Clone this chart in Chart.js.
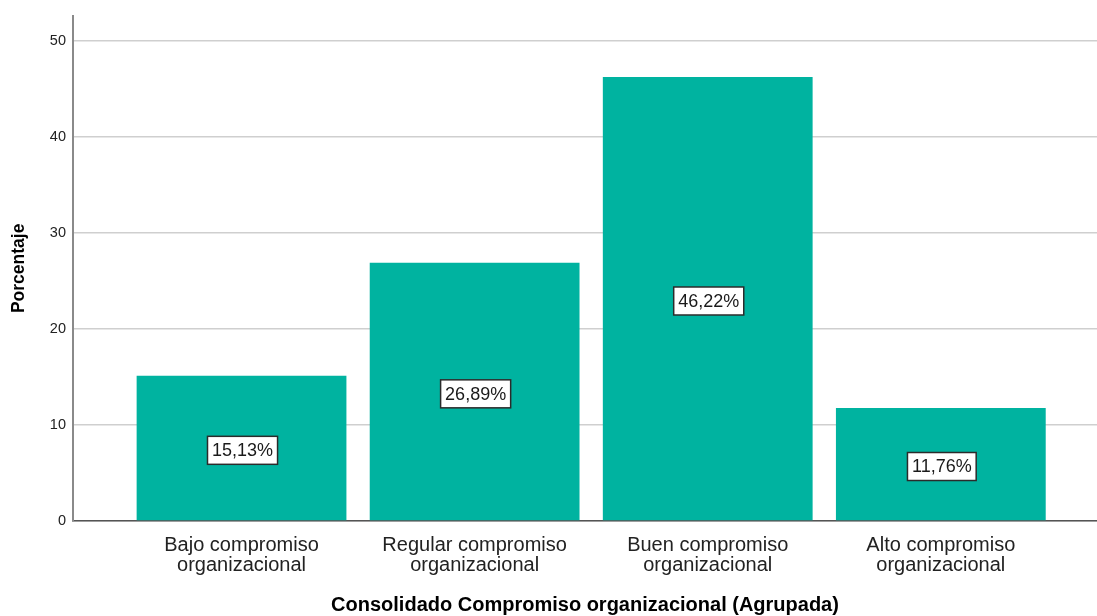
<!DOCTYPE html>
<html>
<head>
<meta charset="utf-8">
<script src="https://cdn.jsdelivr.net/npm/chart.js@4.4.0/dist/chart.umd.min.js"></script>
<style>
  html, body { margin: 0; padding: 0; background: #ffffff; }
  #wrap { width: 1097px; height: 616px; position: relative; }
</style>
</head>
<body>
<div id="wrap"><canvas id="c" width="1097" height="616"></canvas></div>
<script>
const categories = [
  ["Bajo compromiso", "organizacional"],
  ["Regular compromiso", "organizacional"],
  ["Buen compromiso", "organizacional"],
  ["Alto compromiso", "organizacional"]
];
const percentages = [15.13, 26.89, 46.22, 11.76];
const valueLabels = ["15,13%", "26,89%", "46,22%", "11,76%"];
const yTicks = [0, 10, 20, 30, 40, 50];
const xTitle = "Consolidado Compromiso organizacional (Agrupada)";
const yTitle = "Porcentaje";

const FONT = "'Liberation Sans', Arial, sans-serif";

const boxLabels = {
  id: 'boxLabels',
  afterDatasetsDraw(chart) {
    const ctx = chart.ctx;
    const meta = chart.getDatasetMeta(0);
    const ys = chart.scales.y;
    ctx.save();
    ctx.font = "18px " + FONT;
    ctx.textAlign = 'center';
    ctx.textBaseline = 'middle';
    meta.data.forEach((bar, i) => {
      const cx = bar.x + 1;
      const cy = ys.getPixelForValue(percentages[i] / 2) + 2;
      const txt = valueLabels[i];
      const w = ctx.measureText(txt).width + 9;
      const h = 28;
      ctx.fillStyle = '#ffffff';
      ctx.fillRect(cx - w / 2, cy - h / 2, w, h);
      ctx.strokeStyle = '#2b2b2b';
      ctx.lineWidth = 1.5;
      ctx.strokeRect(cx - w / 2, cy - h / 2, w, h);
      ctx.fillStyle = '#1a1a1a';
      ctx.fillText(txt, cx, cy + 1);
    });
    ctx.restore();
  }
};

new Chart(document.getElementById('c'), {
  type: 'bar',
  data: {
    datasets: [{
      data: percentages.map((v, i) => ({ x: i + 1, y: v })),
      backgroundColor: '#00B3A0',
      borderWidth: 0,
      barPercentage: 0.9,
      categoryPercentage: 1.0
    }]
  },
  options: {
    responsive: false,
    animation: false,
    devicePixelRatio: 1,
    layout: { padding: { left: 0, right: 0, top: 15, bottom: 0 } },
    plugins: { legend: { display: false }, tooltip: { enabled: false } },
    scales: {
      x: {
        type: 'linear',
        offset: false,
        min: 0.277,
        max: 4.67,
        afterBuildTicks(scale) { scale.ticks = categories.map((c, i) => ({ value: i + 1 })); },
        afterFit(scale) { scale.height = 95; },
        grid: { display: false, drawTicks: false },
        border: { display: true, color: '#555555', width: 1.5 },
        ticks: {
          autoSkip: false,
          maxRotation: 0,
          padding: 14,
          color: '#222222',
          font: { family: FONT, size: 20, lineHeight: 1.0 },
          callback: (v) => categories[Math.round(v) - 1] || ''
        },
        title: {
          display: true,
          text: xTitle,
          color: '#000000',
          font: { family: FONT, size: 20, weight: 'bold' },
          padding: { top: 0, bottom: -1 }
        }
      },
      y: {
        min: 0,
        max: 52.6,
        afterBuildTicks(scale) { scale.ticks = yTicks.map(v => ({ value: v })); },
        afterFit(scale) { scale.width = 73; },
        grid: { color: '#cfcfcf', lineWidth: 1.5, drawTicks: false },
        border: { display: true, color: '#8a8a8a', width: 2 },
        ticks: {
          padding: 7,
          color: '#222222',
          font: { family: FONT, size: 14.5 }
        },
        title: {
          display: true,
          text: yTitle,
          color: '#000000',
          font: { family: FONT, size: 17.5, weight: 'bold' },
          padding: { top: 9, bottom: 0 }
        }
      }
    }
  },
  plugins: [boxLabels]
});
</script>
</body>
</html>
